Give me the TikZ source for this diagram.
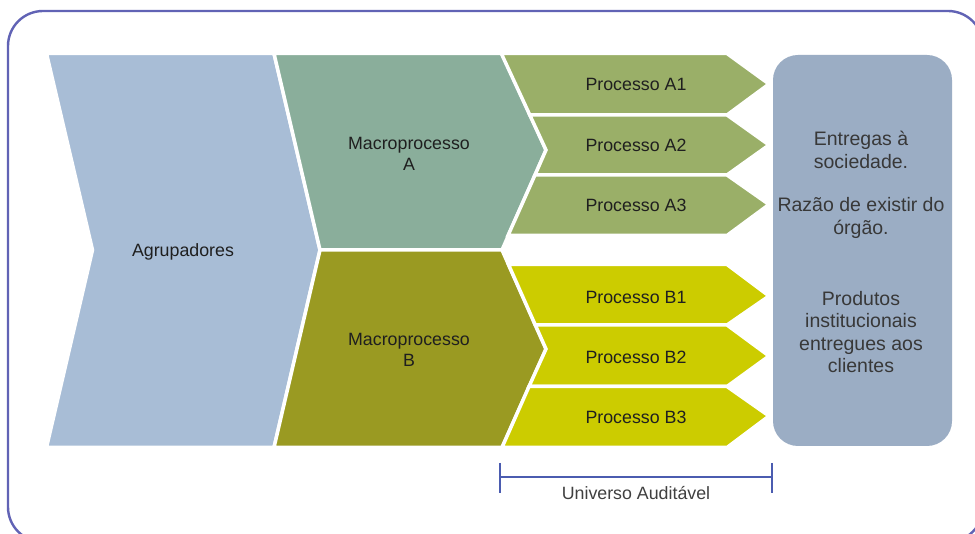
\documentclass[tikz,border=0pt]{standalone}
\usepackage{fontspec}
\setmainfont{Liberation Sans}
\definecolor{frameC}{RGB}{97,99,181}
\definecolor{agrC}{RGB}{168,189,214}
\definecolor{maC}{RGB}{138,174,155}
\definecolor{mbC}{RGB}{154,154,34}
\definecolor{paC}{RGB}{154,175,104}
\definecolor{pbC}{RGB}{204,204,0}
\definecolor{boxC}{RGB}{155,173,196}
\definecolor{brkC}{RGB}{75,92,176}
\begin{document}
\begin{tikzpicture}[x=1pt,y=-1pt,
  shp/.style={draw=white, line width=3.5pt, line join=miter},
  lbl/.style={font=\fontsize{17.8}{21.5}\selectfont, text=black!88, align=center},
  rlbl/.style={font=\fontsize{19.5}{22.5}\selectfont, text=black!78, align=center},
  brk/.style={draw=brkC, line width=2pt}]
\useasboundingbox (0,0) rectangle (975,534);
\clip (0,0) rectangle (975,534);
\fill[white] (0,0) rectangle (975,534);
% outer frame
\draw[frameC, line width=2.4pt, rounded corners=35pt] (8,11) rectangle (983,542);
% Agrupadores
\fill[agrC, shp] (46.5,53.5) -- (274,53.5) -- (320,250) -- (274,447.5) -- (46.5,447.5) -- (92.5,250) -- cycle;
% Macro A and B
\fill[maC, shp] (274,53.5) -- (502,53.5) -- (546,150) -- (502,250) -- (320,250) -- cycle;
\fill[mbC, shp] (320,250) -- (502,250) -- (546,349) -- (502,447.5) -- (274,447.5) -- cycle;
% Processes A
\fill[paC, shp] (501.3,53.5) -- (727,53.5) -- (769,84) -- (727,115) -- (529.8,115) -- cycle;
\fill[paC, shp] (529.8,115) -- (727,115) -- (769,145) -- (727,175) -- (535,175) -- (546,150) -- cycle;
\fill[paC, shp] (535,175) -- (727,175) -- (769,204.5) -- (727,235.5) -- (508,235.5) -- cycle;
% Processes B
\fill[pbC, shp] (508.5,264.5) -- (727,264.5) -- (769,296) -- (727,325) -- (535.3,325) -- cycle;
\fill[pbC, shp] (535.3,325) -- (727,325) -- (769,356) -- (727,386.5) -- (529,386.5) -- (546,349) -- cycle;
\fill[pbC, shp] (529,386.5) -- (727,386.5) -- (769,416) -- (727,447.5) -- (502,447.5) -- cycle;
% right box
\fill[boxC, rounded corners=25pt] (773,55) rectangle (952,446);
% labels
\node[lbl] (agr) at (183,252) {Agrupadores};
\node[lbl] (ma) at (409,154) {Macroprocesso\\A};
\node[lbl] (mb) at (409,350) {Macroprocesso\\B};
\node[lbl] (pa1) at (636,84) {Processo A1};
\node[lbl] (pa2) at (636,145) {Processo A2};
\node[lbl] (pa3) at (636,205) {Processo A3};
\node[lbl] (pb1) at (636,297) {Processo B1};
\node[lbl] (pb2) at (636,357) {Processo B2};
\node[lbl] (pb3) at (636,417) {Processo B3};
\node[rlbl] (ent) at (861,150) {Entregas à\\sociedade.};
\node[rlbl] (raz) at (861,218) {Razão de existir do\\órgão.};
\node[rlbl] (prod) at (861,332) {Produtos\\institucionais\\entregues aos\\clientes};
% bracket
\coordinate (ul) at (500,477);
\coordinate (ur) at (772,477);
\coordinate (ult) at (500,463);
\coordinate (ulb) at (500,493);
\coordinate (urt) at (772,463);
\coordinate (urb) at (772,493);
\draw[brk] (ul) -- (ur);
\draw[brk] (ult) -- (ulb);
\draw[brk] (urt) -- (urb);
\node[lbl, text=black!75] (univ) at (636,493) {Universo Auditável};
\end{tikzpicture}
\end{document}
